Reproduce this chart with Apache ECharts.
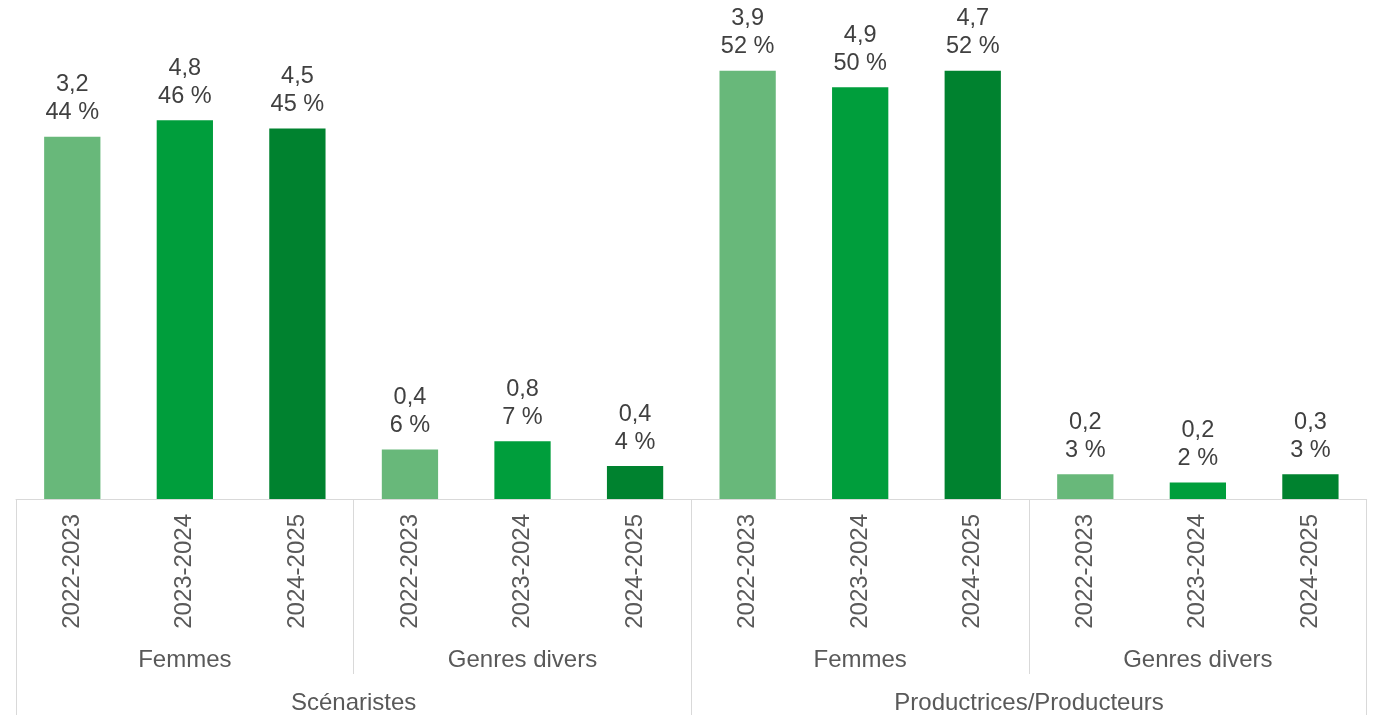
<!DOCTYPE html>
<html>
<head>
<meta charset="utf-8">
<script src="https://cdn.jsdelivr.net/npm/echarts@6/dist/echarts.min.js"></script>
<style>
html,body{margin:0;padding:0;background:#fff;}
#chart{width:1373px;height:715px;}
</style>
</head>
<body>
<div id="chart"></div>
<script>
// Data
const years = ['2022-2023','2023-2024','2024-2025','2022-2023','2023-2024','2024-2025','2022-2023','2023-2024','2024-2025','2022-2023','2023-2024','2024-2025'];
const genders = ['Femmes','Genres divers','Femmes','Genres divers'];
const roles = ['Scénaristes','Productrices/Producteurs'];
const amounts = [3.2, 4.8, 4.5, 0.4, 0.8, 0.4, 3.9, 4.9, 4.7, 0.2, 0.2, 0.3];
const percents = [44, 46, 45, 6, 7, 4, 52, 50, 52, 3, 2, 3];
const yearColors = ['#68B87A', '#009E3C', '#00822F'];

const font = '"Liberation Sans", Arial, sans-serif';
const gridColor = '#D9D9D9';

const barData = percents.map((p, i) => ({
  value: p,
  itemStyle: { color: yearColors[i % 3] },
  label: { formatter: amounts[i].toFixed(1).replace('.', ',') + '\n' + p + ' %' }
}));

const chart = echarts.init(document.getElementById('chart'));
chart.setOption({
  animation: false,
  grid: { left: 16, right: 6.3, top: 5, bottom: 214.5, containLabel: false },
  xAxis: [
    {
      type: 'category', data: years, position: 'bottom',
      axisLine: { show: true, lineStyle: { color: gridColor, width: 1 } },
      axisTick: { show: false },
      axisLabel: { rotate: 90, interval: 0, margin: 15, fontFamily: font, fontSize: 24, color: '#595959' }
    },
    {
      type: 'category', data: genders, position: 'bottom',
      axisLine: { show: false },
      axisTick: { show: true, length: 175, lineStyle: { color: gridColor, width: 1 } },
      axisLabel: { interval: 0, margin: 149, fontFamily: font, fontSize: 24, lineHeight: 24, color: '#595959' }
    },
    {
      type: 'category', data: roles, position: 'bottom',
      axisLine: { show: false },
      axisTick: { show: true, length: 220, lineStyle: { color: gridColor, width: 1 } },
      axisLabel: { interval: 0, margin: 192, fontFamily: font, fontSize: 24, lineHeight: 24, color: '#595959' }
    }
  ],
  yAxis: { type: 'value', min: 0, max: 60, show: false, splitLine: { show: false } },
  series: [{
    type: 'bar',
    xAxisIndex: 0,
    data: barData,
    barWidth: '50%',
    label: {
      show: true, position: 'top', distance: 10,
      fontFamily: font, fontSize: 23.5, lineHeight: 28, color: '#404040', align: 'center'
    }
  }]
});
</script>
</body>
</html>
